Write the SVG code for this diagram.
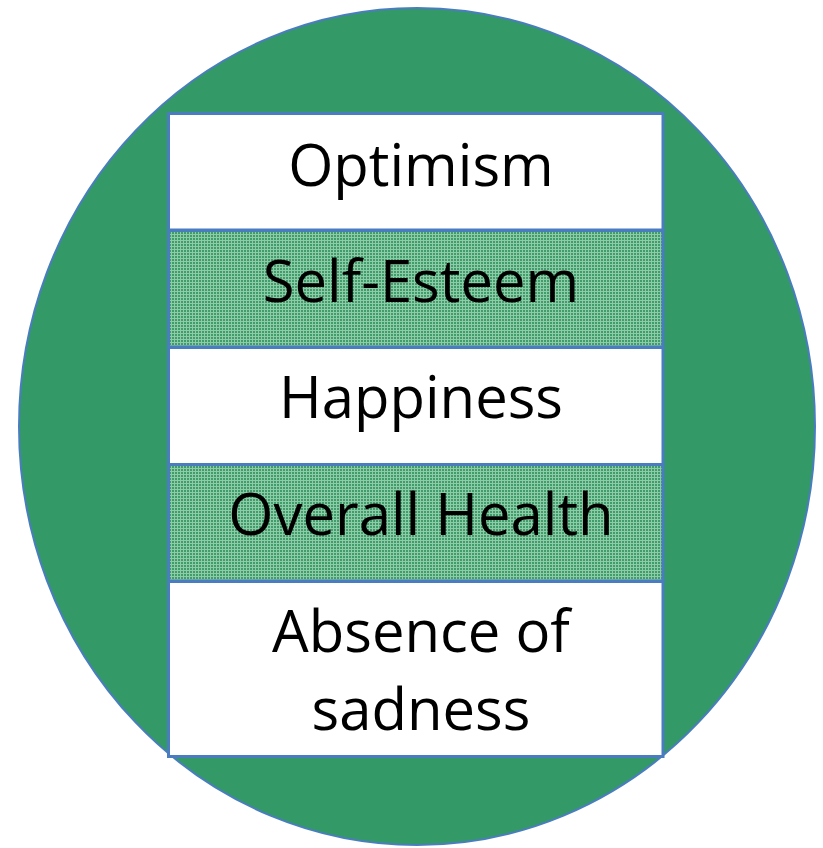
<svg xmlns="http://www.w3.org/2000/svg" width="823" height="848" viewBox="0 0 823 848">
<defs>
<pattern id="grid" width="3" height="3" patternUnits="userSpaceOnUse">
<rect width="3" height="3" fill="#3f9d6c"/>
<rect x="0" y="0" width="3" height="1" fill="#8fcba6"/>
<rect x="0" y="0" width="1" height="3" fill="#8fcba6"/>
</pattern>
<style>
.box{stroke:#4a7dbf;stroke-width:3}
.w{fill:#ffffff}
.g{fill:url(#grid)}
.t{font-family:"Open Sans","Noto Sans",sans-serif;font-size:58px;fill:#000;text-anchor:middle}
</style>
</defs>
<g id="circle">
<ellipse cx="417" cy="426.5" rx="398" ry="418.5" fill="#339966" stroke="#4a7dbf" stroke-width="2"/>
</g>
<g id="optimism">
<rect class="box w" x="168.5" y="113.5" width="494.5" height="116.5"/>
<text class="t" x="421" y="186">Optimism</text>
</g>
<g id="self-esteem">
<rect class="box g" x="168.5" y="230.5" width="494.5" height="116.5"/>
<text class="t" x="421" y="302">Self-Esteem</text>
</g>
<g id="happiness">
<rect class="box w" x="168.5" y="347.5" width="494.5" height="117"/>
<text class="t" x="421" y="418">Happiness</text>
</g>
<g id="overall-health">
<rect class="box g" x="168.5" y="464.5" width="494.5" height="116.5"/>
<text class="t" x="421" y="535">Overall Health</text>
</g>
<g id="absence">
<rect class="box w" x="168.5" y="581.5" width="494.5" height="175"/>
<text class="t" x="421" y="652">Absence of</text>
<text class="t" x="421" y="730">sadness</text>
</g>
<g id="connectors"></g>
</svg>
